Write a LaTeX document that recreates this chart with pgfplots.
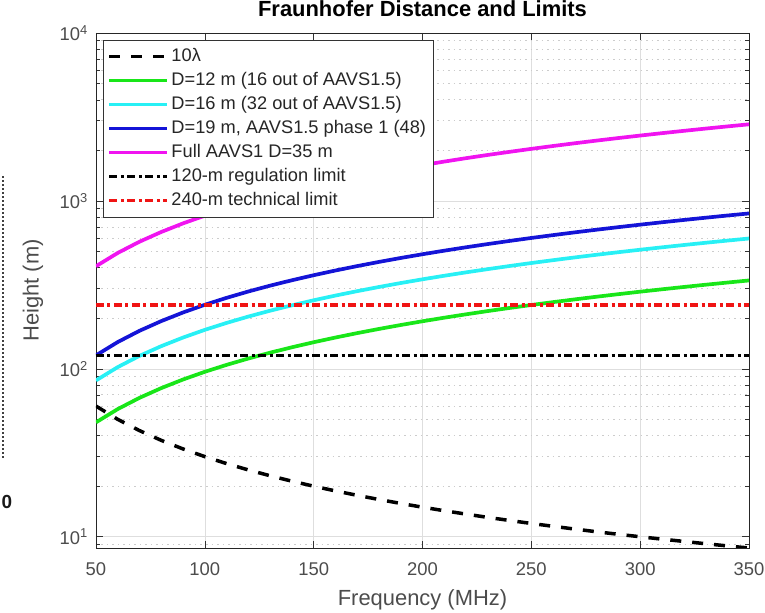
\documentclass[border=0pt]{standalone}
\usepackage{pgfplots}
\pgfplotsset{compat=1.18}
\usepackage{fontspec}
\setmainfont{Liberation Sans}
\definecolor{mgreen}{RGB}{25,230,25}
\definecolor{mcyan}{RGB}{40,240,245}
\definecolor{mblue}{RGB}{20,20,215}
\definecolor{mmag}{RGB}{240,20,240}
\definecolor{mred}{RGB}{240,20,20}
\begin{document}
\begin{tikzpicture}
\useasboundingbox (-96bp,-65bp) rectangle (669bp,548bp);
\draw[black!75, line width=1.2bp, dash pattern=on 2bp off 2bp] (-93bp,90bp) -- (-93bp,373bp);
\node[font=\bfseries\fontsize{19}{22}\selectfont, text=black!90] at (-89bp,46bp) {0};
\begin{axis}[
  scale only axis, width=653bp, height=515bp,
  at={(0,0)}, anchor=south west,
  ymode=log,
  xmin=50, xmax=350, ymin=8.571, ymax=10000,
  xtick={50,100,150,200,250,300,350},
  ytick={10,100,1000,10000},
  yticklabels={10\textsuperscript{1},10\textsuperscript{2},10\textsuperscript{3},10\textsuperscript{4}},
  minor ytick={9,20,30,40,50,60,70,80,90,200,300,400,500,600,700,800,900,2000,3000,4000,5000,6000,7000,8000,9000},
  xmajorgrids, ymajorgrids, yminorgrids,
  major grid style={black!13, line width=0.6bp},
  minor grid style={black!20, line width=0.8bp, dash pattern=on 1.5bp off 4bp},
  tick align=inside, major tick length=7bp, minor tick length=4bp,
  tick style={black!80, line width=0.6bp},
  axis line style={black!85, line width=0.8bp},
  /pgf/number format/assume math mode=true,
  tick label style={font=\fontsize{18.5}{22}\selectfont, text=black!70},
  xticklabel style={anchor=center, yshift=-21bp},
  yticklabel style={anchor=east, inner sep=0pt, xshift=-8bp},
  xlabel={Frequency (MHz)}, ylabel={Height (m)},
  xlabel style={at={(axis description cs:0.5,-0.101)}, anchor=center, font=\fontsize{22}{26}\selectfont, text=black!70},
  ylabel style={at={(axis description cs:-0.0965,0.5)}, anchor=center, font=\fontsize{22}{26}\selectfont, text=black!70},
  title={Fraunhofer Distance and Limits},
  title style={at={(axis description cs:0.5,1.035)}, anchor=center, font=\bfseries\fontsize{22}{26}\selectfont},
  legend image code/.code={\draw[#1, line width=3.2bp] (0bp,0bp) -- (58bp,0bp);},
  legend style={at={(axis description cs:0,1)}, anchor=north west, xshift=7bp, yshift=-7bp,
    draw=black!80, line width=0.6bp, fill=white, inner sep=4.5bp,
    font=\fontsize{18.3}{21}\selectfont, text=black!85, row sep=0pt, column sep=0pt,
    cells={anchor=west},
    nodes={inner sep=2.5bp, text height=14bp, text depth=5bp}},
]
\addplot[black, line width=3.5bp, dash pattern=on 11bp off 11bp] coordinates {
(50,60) (60,50) (70,42.86) (80,37.5) (90,33.33) (100,30) (110,27.27) (120,25) (130,23.08) (140,21.43) (150,20) (160,18.75) (170,17.65) (180,16.67) (190,15.79) (200,15) (210,14.29) (220,13.64) (230,13.04) (240,12.5) (250,12) (260,11.54) (270,11.11) (280,10.71) (290,10.34) (300,10) (310,9.68) (320,9.38) (330,9.09) (340,8.82) (350,8.57)};
\addlegendentry{10λ}
\addplot[mgreen, line width=3.7bp] coordinates {
(50,48) (60,57.6) (70,67.2) (80,76.8) (90,86.4) (100,96) (110,105.6) (120,115.2) (130,124.8) (140,134.4) (150,144) (160,153.6) (170,163.2) (180,172.8) (190,182.4) (200,192) (210,201.6) (220,211.2) (230,220.8) (240,230.4) (250,240) (260,249.6) (270,259.2) (280,268.8) (290,278.4) (300,288) (310,297.6) (320,307.2) (330,316.8) (340,326.4) (350,336)};
\addlegendentry{D=12 m (16 out of AAVS1.5)}
\addplot[mcyan, line width=3.7bp] coordinates {
(50,85.3) (60,102.4) (70,119.5) (80,136.5) (90,153.6) (100,170.7) (110,187.7) (120,204.8) (130,221.9) (140,238.9) (150,256) (160,273.1) (170,290.1) (180,307.2) (190,324.3) (200,341.3) (210,358.4) (220,375.5) (230,392.5) (240,409.6) (250,426.7) (260,443.7) (270,460.8) (280,477.9) (290,494.9) (300,512) (310,529.1) (320,546.1) (330,563.2) (340,580.3) (350,597.3)};
\addlegendentry{D=16 m (32 out of AAVS1.5)}
\addplot[mblue, line width=3.7bp] coordinates {
(50,120.3) (60,144.4) (70,168.5) (80,192.5) (90,216.6) (100,240.7) (110,264.7) (120,288.8) (130,312.9) (140,336.9) (150,361) (160,385.1) (170,409.1) (180,433.2) (190,457.3) (200,481.3) (210,505.4) (220,529.5) (230,553.5) (240,577.6) (250,601.7) (260,625.7) (270,649.8) (280,673.9) (290,697.9) (300,722) (310,746.1) (320,770.1) (330,794.2) (340,818.3) (350,842.3)};
\addlegendentry{D=19 m, AAVS1.5 phase 1 (48)}
\addplot[mmag, line width=3.7bp] coordinates {
(50,408.3) (60,490) (70,571.7) (80,653.3) (90,735) (100,816.7) (110,898.3) (120,980) (130,1061.7) (140,1143.3) (150,1225) (160,1306.7) (170,1388.3) (180,1470) (190,1551.7) (200,1633.3) (210,1715) (220,1796.7) (230,1878.3) (240,1960) (250,2041.7) (260,2123.3) (270,2205) (280,2286.7) (290,2368.3) (300,2450) (310,2531.7) (320,2613.3) (330,2695) (340,2776.7) (350,2858.3)};
\addlegendentry{Full AAVS1 D=35 m}
\addplot[black, line width=3.5bp, dash pattern=on 8bp off 3.5bp on 3bp off 3.5bp] coordinates {(50,120) (350,120)};
\addlegendentry{120-m regulation limit}
\addplot[mred, line width=3.5bp, dash pattern=on 8bp off 3.5bp on 3bp off 3.5bp] coordinates {(50,240) (350,240)};
\addlegendentry{240-m technical limit}
\end{axis}
\end{tikzpicture}
\end{document}
